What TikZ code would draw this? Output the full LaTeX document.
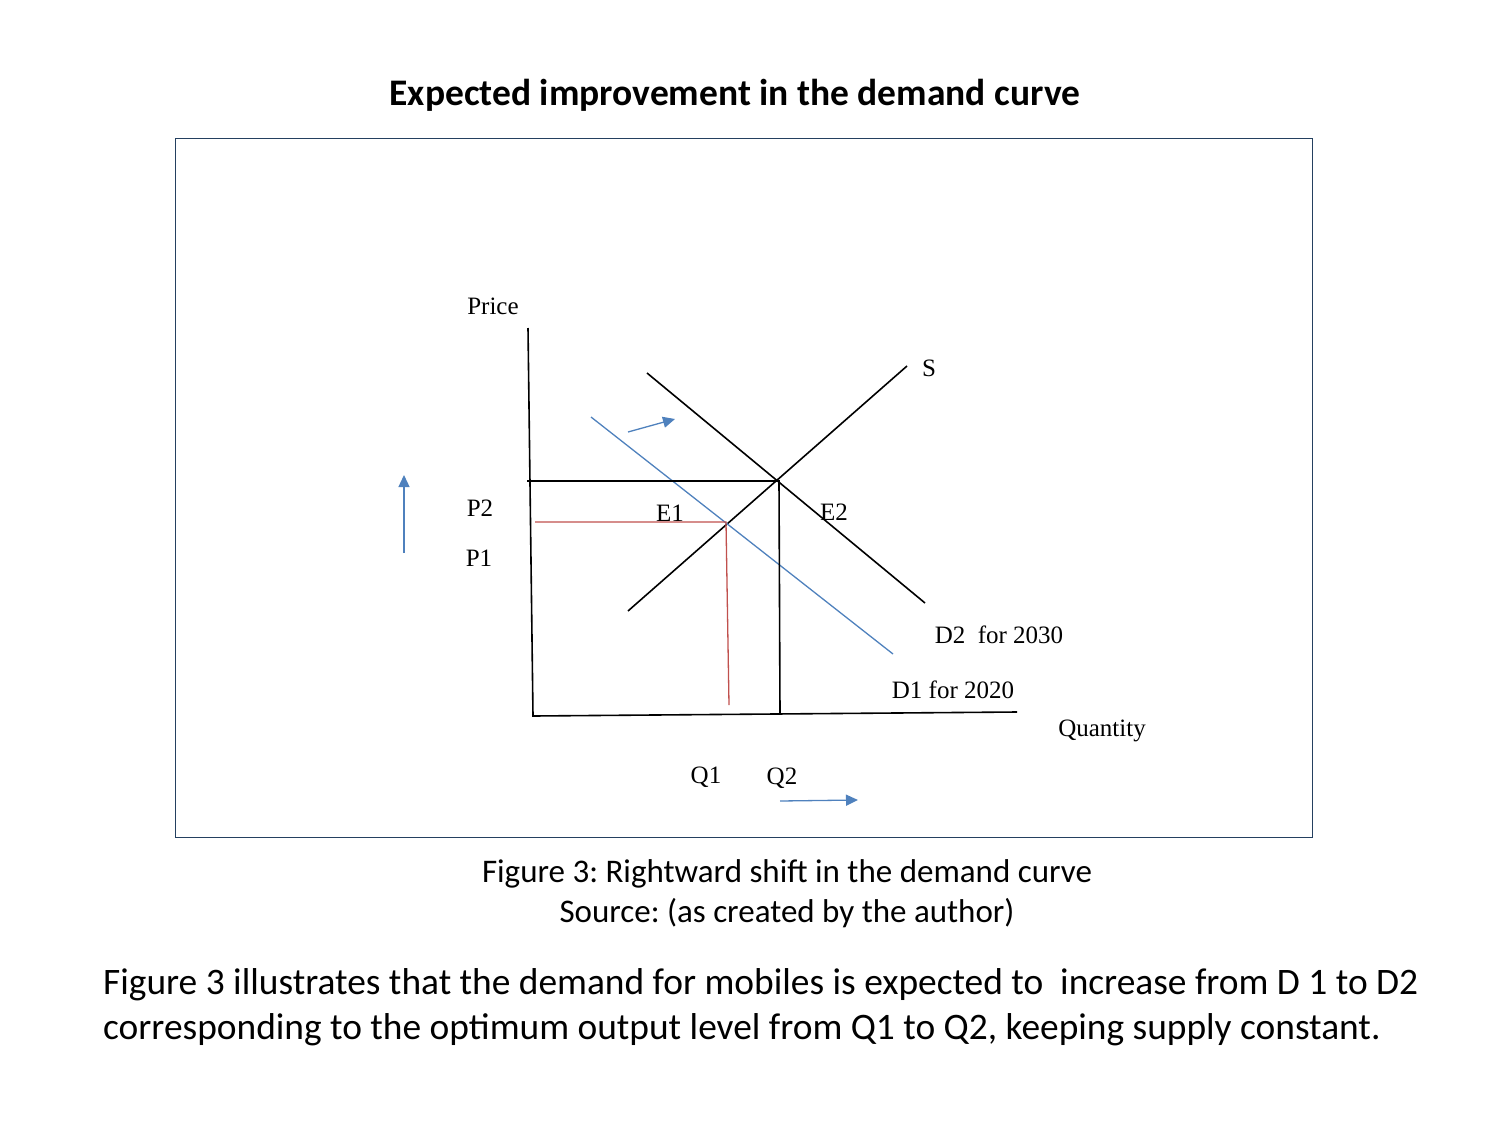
\documentclass[tikz,border=0pt]{standalone}
\usepackage{fontspec}
\setmainfont{Liberation Serif}
\newfontfamily\carlitofont{Carlito}
\usetikzlibrary{arrows.meta}
\definecolor{offblue}{RGB}{79,129,189}
\definecolor{offred}{RGB}{192,80,77}
\definecolor{framecol}{RGB}{36,64,96}
\tikzset{
  blk/.style={line width=1.6pt, black},
  bl/.style={line width=1.3pt, offblue},
  rd/.style={line width=1.3pt, offred},
  barrow/.style={line width=1.3pt, offblue, -{Triangle[length=12pt,width=11pt]}},
  lbl/.style={font=\fontsize{25}{29}\selectfont, inner sep=0pt},
}
\frenchspacing
\begin{document}
\begin{tikzpicture}[x=1pt,y=-1pt]
\useasboundingbox (0,0) rectangle (1500,1125);
\node[font=\carlitofont\bfseries\fontsize{37.5}{44}\selectfont] (title) at (735,95) {Expected improvement in the demand curve};
\draw[framecol, line width=1pt] (175,138) rectangle (1312,837);
% axes
\coordinate (ytop) at (528,328);
\coordinate (orig) at (533,716);
\coordinate (xend) at (1017,712);
\draw[blk] (ytop) -- (orig) -- (xend);
% curves
\coordinate (s1) at (628,611); \coordinate (s2) at (907,366);
\coordinate (d2a) at (647,373); \coordinate (d2b) at (925,603);
\coordinate (d1a) at (591,417); \coordinate (d1b) at (893,654);
\draw[blk] (s1) -- (s2);
\draw[blk] (d2a) -- (d2b);
\draw[bl] (d1a) -- (d1b);
% equilibrium lines
\coordinate (p2l) at (527,481); \coordinate (e2) at (779,481); \coordinate (q2b) at (780,714);
\draw[blk] (p2l) -- (e2) -- (q2b);
\coordinate (p1l) at (535,522); \coordinate (e1) at (726,522); \coordinate (q1b) at (729,705);
\draw[rd] (p1l) -- (e1) -- (q1b);
% arrows
\coordinate (a1s) at (628,432); \coordinate (a1e) at (675,419);
\draw[barrow] (a1s) -- (a1e);
\coordinate (a2s) at (404,553); \coordinate (a2e) at (404,475);
\draw[barrow] (a2s) -- (a2e);
\coordinate (a3s) at (780,801); \coordinate (a3e) at (858,800);
\draw[barrow] (a3s) -- (a3e);
% labels
\node[lbl] (price) at (493,306) {Price};
\node[lbl] (S) at (929,368) {S};
\node[lbl] (E1) at (670,513) {E1};
\node[lbl] (E2) at (834,512) {E2};
\node[lbl] (P2) at (480,508) {P2};
\node[lbl] (P1) at (479,558) {P1};
\node[lbl] (Q1) at (706,777) {Q1};
\node[lbl] (Q2) at (782,778) {Q2};
\node[lbl] (D2) at (999,635) {D2\ \ for 2030};
\node[lbl] (D1) at (953,690) {D1 for 2020};
\node[lbl] (qty) at (1102,731) {Quantity};
% captions
\node[font=\carlitofont\fontsize{33}{40}\selectfont, align=center, inner sep=0pt] (cap) at (787,894) {Figure 3: Rightward shift in the demand curve\\Source: (as created by the author)};
\node[font=\carlitofont\fontsize{37.4}{45}\selectfont, align=left, anchor=west, inner sep=0pt] (body) at (103,1007) {Figure 3 illustrates that the demand for mobiles is expected to\ \ increase from D 1 to D2\\corresponding to the optimum output level from Q1 to Q2, keeping supply constant.};
\end{tikzpicture}
\end{document}
